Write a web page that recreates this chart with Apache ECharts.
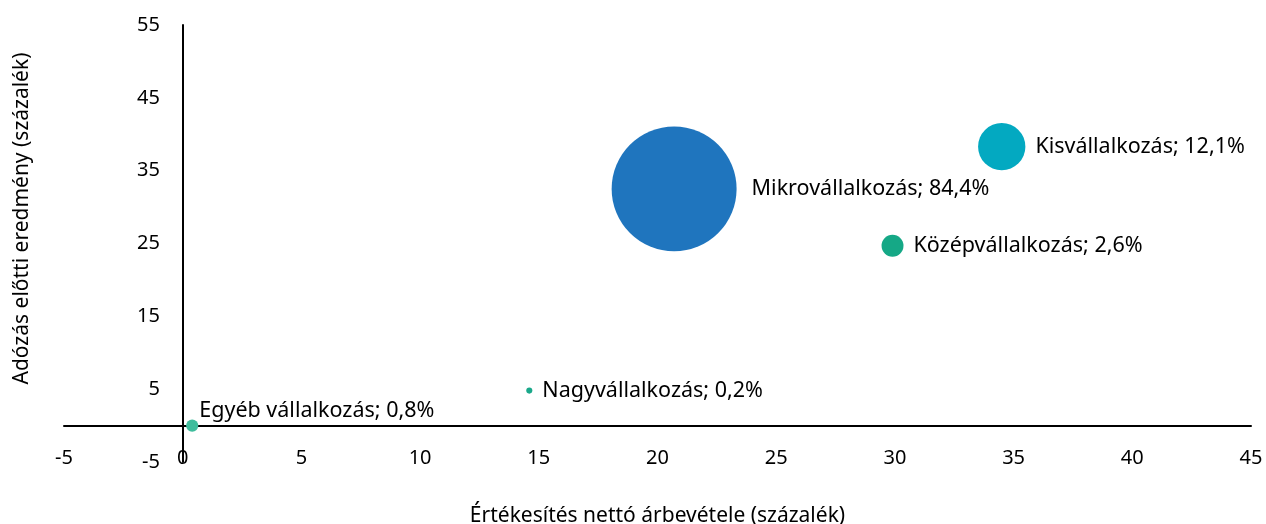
<!DOCTYPE html>
<html>
<head>
<meta charset="utf-8">
<script src="https://cdn.jsdelivr.net/npm/echarts@6/dist/echarts.min.js"></script>
<style>
  html, body { margin: 0; padding: 0; background: #fff; }
  #chart { width: 1266px; height: 524px; }
</style>
</head>
<body>
<div id="chart"></div>
<script>
// vállalkozási kategóriák
const names = ['Egyéb vállalkozás', 'Nagyvállalkozás', 'Mikrovállalkozás', 'Középvállalkozás', 'Kisvállalkozás'];
const revenue = [0.4, 14.6, 20.7, 29.9, 34.5]; // x: értékesítés nettó árbevétele (%)
const profit = [0, 4.8, 32.5, 24.7, 38.3];     // y: adózás előtti eredmény (%)
const share = [0.8, 0.2, 84.4, 2.6, 12.1];     // buborék mérete (%)
const yTickLabels = [-5, 5, 15, 25, 35, 45, 55];
const xTickLabels = [-5, 0, 5, 10, 15, 20, 25, 30, 35, 40, 45];

const colors = ['#3fbd9d', '#1aa88a', '#1f75be', '#15a886', '#03a9c1'];
const font = 'Noto Sans';
const textColor = '#000';

const fmtPct = (v) => String(v).replace('.', ',') + '%';

const data = names.map((n, i) => {
  const item = {
    name: n,
    value: [revenue[i], profit[i], share[i]],
    itemStyle: { color: colors[i], opacity: 1 },
  };
  if (i === 0) item.label = { distance: 1, offset: [0, -15] };
  if (i === 2) item.label = { distance: 15 };
  return item;
});

const chart = echarts.init(document.getElementById('chart'));

chart.setOption({
  backgroundColor: '#fff',
  animation: false,
  grid: { left: 64, right: 15, top: 25, bottom: 62, outerBoundsMode: 'none' },
  xAxis: {
    type: 'value',
    min: -5,
    max: 45,
    interval: 5,
    axisLine: { onZero: true, lineStyle: { color: '#000', width: 2 } },
    axisTick: { show: false },
    splitLine: { show: false },
    axisLabel: {
      // címkék a rajzterület alján, a tengelyvonal y=0-nál
      margin: -14,
      fontSize: 20,
      fontFamily: font,
      color: textColor,
      formatter: (v) => (xTickLabels.includes(v) ? String(v) : ''),
    },
    name: 'Értékesítés nettó árbevétele (százalék)',
    nameLocation: 'middle',
    nameGap: 44,
    nameTextStyle: { fontSize: 21, fontFamily: font, color: textColor },
  },
  yAxis: {
    type: 'value',
    min: -5,
    max: 55,
    interval: 5,
    axisLine: { onZero: true, lineStyle: { color: '#000', width: 2 } },
    axisTick: { show: false },
    splitLine: { show: false },
    axisLabel: {
      // címkék az x=0 tengelyvonal mellett
      margin: -96,
      fontSize: 20,
      fontFamily: font,
      color: textColor,
      formatter: (v) => (yTickLabels.includes(v) ? String(v) : ''),
    },
    name: 'Adózás előtti eredmény (százalék)',
    nameLocation: 'middle',
    nameGap: 31,
    nameTextStyle: { fontSize: 21, fontFamily: font, color: textColor, padding: [0, 0, 0, 50] },
  },
  series: [
    {
      type: 'scatter',
      data: data,
      symbolSize: (v) => 13.6 * Math.sqrt(v[2]),
      label: {
        show: true,
        position: 'right',
        distance: 10,
        fontSize: 21.5,
        fontFamily: font,
        color: textColor,
        formatter: (p) => p.name + '; ' + fmtPct(p.value[2]),
      },
      emphasis: { disabled: true },
    },
  ],
});

window.addEventListener('resize', () => chart.resize());
</script>
</body>
</html>
